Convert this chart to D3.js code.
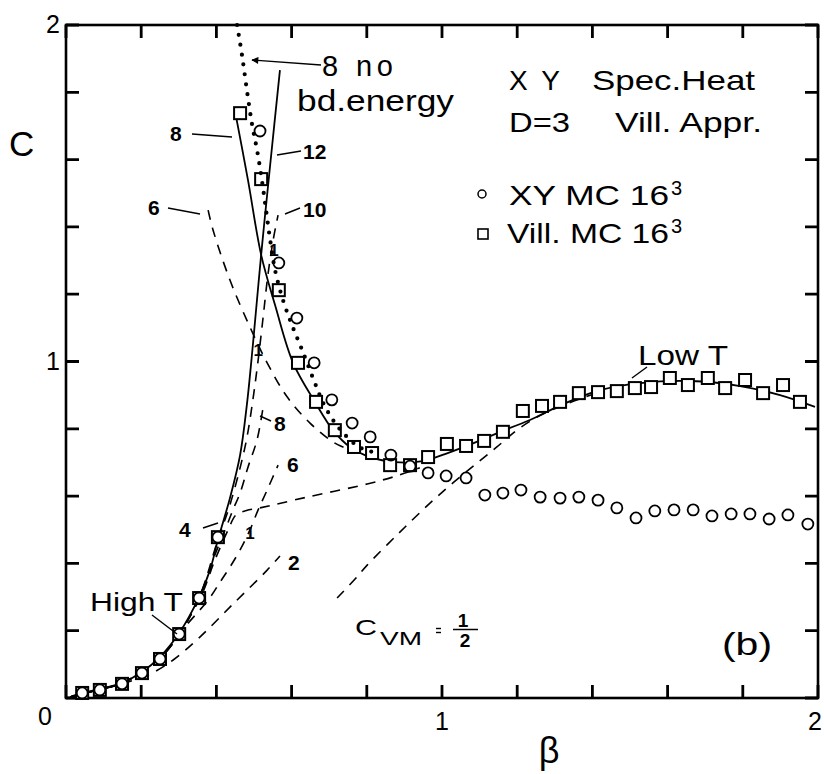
<!DOCTYPE html>
<html><head><meta charset="utf-8">
<script src="https://cdn.jsdelivr.net/npm/d3@7"></script>
<style>
body{margin:0;background:#fff}
svg{display:block}
text{font-family:"Liberation Sans",Arial,sans-serif;fill:#000}
</style>
</head><body><script>
// ---------- data ----------
// XY MC 16^3 (circles)
const betaXY = [0.043,0.090,0.149,0.202,0.250,0.301,0.354,0.404,
  0.516,0.566,0.614,0.660,0.707,0.761,0.809,0.864,0.915,0.963,
  1.011,1.064,1.114,1.162,1.210,1.261,1.314,1.364,1.415,1.465,
  1.516,1.566,1.617,1.668,1.718,1.769,1.819,1.870,1.920,1.973];
const cXY = [0.015,0.024,0.042,0.074,0.116,0.190,0.297,0.478,
  1.685,1.293,1.129,0.996,0.886,0.817,0.776,0.722,0.689,0.669,
  0.660,0.654,0.603,0.609,0.618,0.597,0.594,0.597,0.588,0.565,
  0.535,0.556,0.559,0.559,0.541,0.547,0.547,0.532,0.544,0.517];
// Vill. MC 16^3 (squares)
const betaVill = [0.043,0.090,0.149,0.202,0.250,0.301,0.354,0.404,
  0.463,0.519,0.566,0.617,0.665,0.715,0.766,0.814,0.862,0.915,
  0.963,1.013,1.064,1.112,1.162,1.215,1.266,1.314,1.364,1.415,
  1.465,1.513,1.556,1.606,1.654,1.707,1.753,1.806,1.854,1.907,1.952];
const cVill = [0.015,0.024,0.042,0.074,0.116,0.190,0.297,0.478,
  1.738,1.542,1.212,0.996,0.880,0.796,0.746,0.728,0.692,0.692,
  0.716,0.755,0.749,0.764,0.791,0.853,0.868,0.880,0.906,0.909,
  0.912,0.921,0.924,0.951,0.930,0.951,0.921,0.945,0.906,0.930,0.880];

// high-T series (dashed), orders 2,4,6,8,10; order 12 solid
const highT2 = [[0.011,0.003],[0.043,0.013],[0.090,0.025],[0.149,0.042],[0.223,0.071],[0.285,0.113],[0.356,0.181],[0.444,0.279],[0.535,0.380],[0.569,0.422]];
const highT4 = [[0.011,0.003],[0.090,0.026],[0.149,0.043],[0.250,0.118],[0.354,0.291],[0.396,0.410],[0.431,0.499],[0.452,0.544],[0.480,0.557],[0.516,0.565],[0.641,0.597],[0.801,0.636],[0.888,0.663],[0.941,0.684]];
const highT6 = [[0.011,0.003],[0.090,0.026],[0.149,0.044],[0.250,0.119],[0.316,0.211],[0.378,0.291],[0.410,0.345],[0.436,0.389],[0.463,0.440],[0.489,0.499],[0.511,0.559],[0.535,0.618],[0.564,0.692]];
const highT8 = [[0.011,0.003],[0.090,0.026],[0.149,0.044],[0.250,0.119],[0.301,0.190],[0.354,0.297],[0.396,0.425],[0.423,0.499],[0.444,0.559],[0.463,0.609],[0.484,0.686],[0.508,0.767],[0.524,0.862]];
const highT10 = [[0.011,0.003],[0.090,0.026],[0.149,0.044],[0.250,0.119],[0.301,0.190],[0.354,0.298],[0.404,0.470],[0.436,0.574],[0.463,0.684],[0.481,0.773],[0.497,0.886],[0.511,1.004],[0.524,1.129],[0.537,1.257],[0.551,1.361],[0.564,1.435]];
const highT12 = [[0.011,0.003],[0.043,0.015],[0.090,0.027],[0.149,0.045],[0.202,0.077],[0.250,0.122],[0.301,0.193],[0.354,0.300],[0.383,0.380],[0.404,0.470],[0.436,0.594],[0.463,0.722],[0.481,0.871],[0.497,1.049],[0.519,1.317],[0.543,1.584],[0.569,1.866]];
// low-T series
const lowT8 = [[0.449,1.747],[0.484,1.539],[0.519,1.317],[0.556,1.168],[0.604,0.996],[0.662,0.880],[0.710,0.796],[0.755,0.746],[0.809,0.716],[0.875,0.701],[0.949,0.704],[1.008,0.725],[1.066,0.749],[1.173,0.799],[1.234,0.826],[1.306,0.865],[1.367,0.894],[1.420,0.915],[1.527,0.936],[1.660,0.942],[1.793,0.927],[1.899,0.900],[1.992,0.865]];
const lowT8noBd = [[0.455,2.000],[0.468,1.911],[0.481,1.807],[0.495,1.703],[0.508,1.629],[0.521,1.539],[0.532,1.450],[0.543,1.361],[0.556,1.272],[0.577,1.183],[0.601,1.108],[0.628,1.034],[0.662,0.936],[0.684,0.877],[0.710,0.826],[0.737,0.788],[0.779,0.746],[0.816,0.731]];
const lowT6 = [[0.378,1.450],[0.391,1.391],[0.436,1.242],[0.489,1.103],[0.535,0.996],[0.588,0.895],[0.649,0.817],[0.710,0.761],[0.742,0.743]];
const lowTcvm = [[0.721,0.297],[0.774,0.360],[0.801,0.395],[0.888,0.493],[0.968,0.579],[1.029,0.639],[1.093,0.698],[1.146,0.746],[1.199,0.796],[1.253,0.835],[1.311,0.865],[1.367,0.889],[1.420,0.909]];
// small "1" marks
const markOnes = [[0.553,1.331],[0.511,1.034],[0.489,0.490]];
// tick values and labels
const tickVals = [0,0.2,0.4,0.6,0.8,1.0,1.2,1.4,1.6,1.8,2.0];
const xTickLabels = [1,2];
const yTickLabels = [1,2];

// ---------- chart ----------
const W=824,H=774;
const svg=d3.select("body").append("svg").attr("width",W).attr("height",H);
const x=d3.scaleLinear().domain([0,2]).range([66,818]);
const y=d3.scaleLinear().domain([0,2]).range([698,25]);
const TL=13;

svg.append("rect").attr("x",x(0)).attr("y",y(2)).attr("width",x(2)-x(0)).attr("height",y(0)-y(2))
  .attr("fill","none").attr("stroke","#000").attr("stroke-width",2.6);

// ticks (inward on all four sides), built from the scales
const tickPath = d3.path();
tickVals.forEach(v=>{
  const tx=x(v), ty=y(v);
  tickPath.moveTo(tx,y(0)); tickPath.lineTo(tx,y(0)-TL);
  tickPath.moveTo(tx,y(2)); tickPath.lineTo(tx,y(2)+TL);
  tickPath.moveTo(x(0),ty); tickPath.lineTo(x(0)+TL,ty);
  tickPath.moveTo(x(2),ty); tickPath.lineTo(x(2)-TL,ty);
});
svg.append("path").attr("d",tickPath.toString()).attr("fill","none")
  .attr("stroke","#000").attr("stroke-width",2.8);

svg.selectAll("text.xt").data(xTickLabels).join("text").attr("class","xt")
  .attr("x",d=>x(d)+(d===2?-3:0)).attr("y",y(0)+32).attr("text-anchor","middle").attr("font-size",25).text(d=>d);
svg.selectAll("text.yt").data(yTickLabels).join("text").attr("class","yt")
  .attr("x",x(0)-6).attr("y",d=>y(d)+8).attr("text-anchor","end").attr("font-size",25).text(d=>d);
svg.append("text").attr("x",x(0)-21).attr("y",y(0)+27).attr("text-anchor","middle").attr("font-size",25).text("0");

// axis titles
svg.append("text").attr("x",9).attr("y",156).attr("font-size",35).text("C");
svg.append("text").attr("x",549).attr("y",763).attr("text-anchor","middle").attr("font-size",36).text("β");

const line=d3.line().x(d=>x(d[0])).y(d=>y(d[1])).curve(d3.curveCatmullRom.alpha(0.5));
const gLines=svg.append("g").attr("fill","none").attr("stroke","#000");
function draw(g,data,dash,w){
  const p=g.append("path").attr("d",line(data)).attr("stroke-width",w||1.6);
  if(dash) p.attr("stroke-dasharray",dash);
  return p;
}
const DASH="10 8";
draw(gLines,highT2,DASH);
draw(gLines,highT4,DASH);
draw(gLines,highT6,DASH);
draw(gLines,highT8,DASH);
draw(gLines,highT10,DASH);
draw(gLines,lowT6,DASH);
draw(gLines,lowTcvm,DASH);
draw(gLines,highT12,null,1.8);
draw(gLines,lowT8,null,1.8);

// markers
const gM=svg.append("g");
gM.selectAll("rect.vill").data(betaVill.map((b,i)=>[b,cVill[i]])).join("rect")
  .attr("class","vill").attr("x",d=>x(d[0])-6).attr("y",d=>y(d[1])-6).attr("width",12).attr("height",12)
  .attr("fill","#fff").attr("stroke","#000").attr("stroke-width",2);
gM.selectAll("circle.xy").data(betaXY.map((b,i)=>[b,cXY[i]])).join("circle")
  .attr("class","xy").attr("cx",d=>x(d[0])).attr("cy",d=>y(d[1])).attr("r",5.5)
  .attr("fill","none").attr("stroke","#000").attr("stroke-width",1.8);

// dotted "8 no bd.energy" on top
const gDot=svg.append("g").attr("fill","none").attr("stroke","#000");
draw(gDot,lowT8noBd,"0 10",4.2).attr("stroke-linecap","round");

// "1" marks
svg.selectAll("text.one").data(markOnes).join("text").attr("class","one")
  .attr("x",d=>x(d[0])).attr("y",d=>y(d[1])+6).attr("text-anchor","middle")
  .attr("font-size",17).attr("font-weight","bold").text("1");

// ---------- annotations ----------
const defs=svg.append("defs");
defs.append("marker").attr("id","ah").attr("viewBox","0 0 10 10").attr("refX",9).attr("refY",5)
  .attr("markerWidth",9).attr("markerHeight",7).attr("orient","auto").attr("markerUnits","userSpaceOnUse")
  .append("path").attr("d","M0,0L10,5L0,10Z").attr("fill","#000");
const gA=svg.append("g").attr("stroke","#000").attr("stroke-width",1.4);
gA.append("line").attr("x1",321).attr("y1",65).attr("x2",252).attr("y2",60).attr("marker-end","url(#ah)");
const leaders=[[192,134,232,137],[277,155,301,151],[168,208,200,214],[285,214,300,208],
  [260,416,271,421],[203,528,218,523],[152,615,177,634],[632,378,647,367]];
leaders.forEach(l=>gA.append("line").attr("x1",l[0]).attr("y1",l[1]).attr("x2",l[2]).attr("y2",l[3]));

function txt(s,xx,yy,size,opts){
  const t=svg.append("text").attr("x",xx).attr("y",yy).attr("font-size",size).text(s);
  opts=opts||{};
  if(opts.w) t.attr("textLength",opts.w).attr("lengthAdjust",opts.adj||"spacingAndGlyphs");
  if(opts.bold) t.attr("font-weight","bold");
  if(opts.anchor) t.attr("text-anchor",opts.anchor);
  return t;
}
txt("8 no",322,76,29,{w:71,adj:"spacing"});
txt("bd.energy",297,111,29,{w:157});
txt("X Y",509,90,28,{w:51,adj:"spacing"});
txt("Spec.Heat",592,90,28,{w:163});
txt("D=3",509,132,28,{w:61});
txt("Vill. Appr.",615,132,28,{w:147});
svg.append("circle").attr("cx",482).attr("cy",194).attr("r",4).attr("fill","none").attr("stroke","#000").attr("stroke-width",1.5);
svg.append("rect").attr("x",478).attr("y",229).attr("width",10).attr("height",10).attr("fill","none").attr("stroke","#000").attr("stroke-width",1.6);
txt("XY MC 16",509,205,28,{w:160});
txt("3",671,195,20);
txt("Vill. MC 16",507,243,28,{w:162});
txt("3",671,233,20);

txt("8",170,141,21,{bold:true});
txt("12",303,159,21,{bold:true});
txt("6",148,215,21,{bold:true});
txt("10",303,217,21,{bold:true});
txt("8",274,431,21,{bold:true});
txt("6",287,472,21,{bold:true});
txt("4",179,537,21,{bold:true});
txt("2",288,570,21,{bold:true});

txt("High T",90,611,26,{w:93});
txt("Low T",638,365,28,{w:90});
txt("(b)",722,655,32,{w:50});

txt("C",355,635,22,{w:22});
txt("VM",380,645,18,{w:42});
const gEq=svg.append("g").attr("stroke","#000").attr("stroke-width",1.4);
gEq.append("line").attr("x1",436).attr("x2",441).attr("y1",628.5).attr("y2",628.5);
gEq.append("line").attr("x1",436).attr("x2",441).attr("y1",632.5).attr("y2",632.5);
txt("1",463,627,19,{bold:true,anchor:"middle"});
svg.append("line").attr("x1",453).attr("x2",478).attr("y1",629.5).attr("y2",629.5).attr("stroke","#000").attr("stroke-width",1.5);
txt("2",465,647,19,{bold:true,anchor:"middle"});
</script></body></html>
